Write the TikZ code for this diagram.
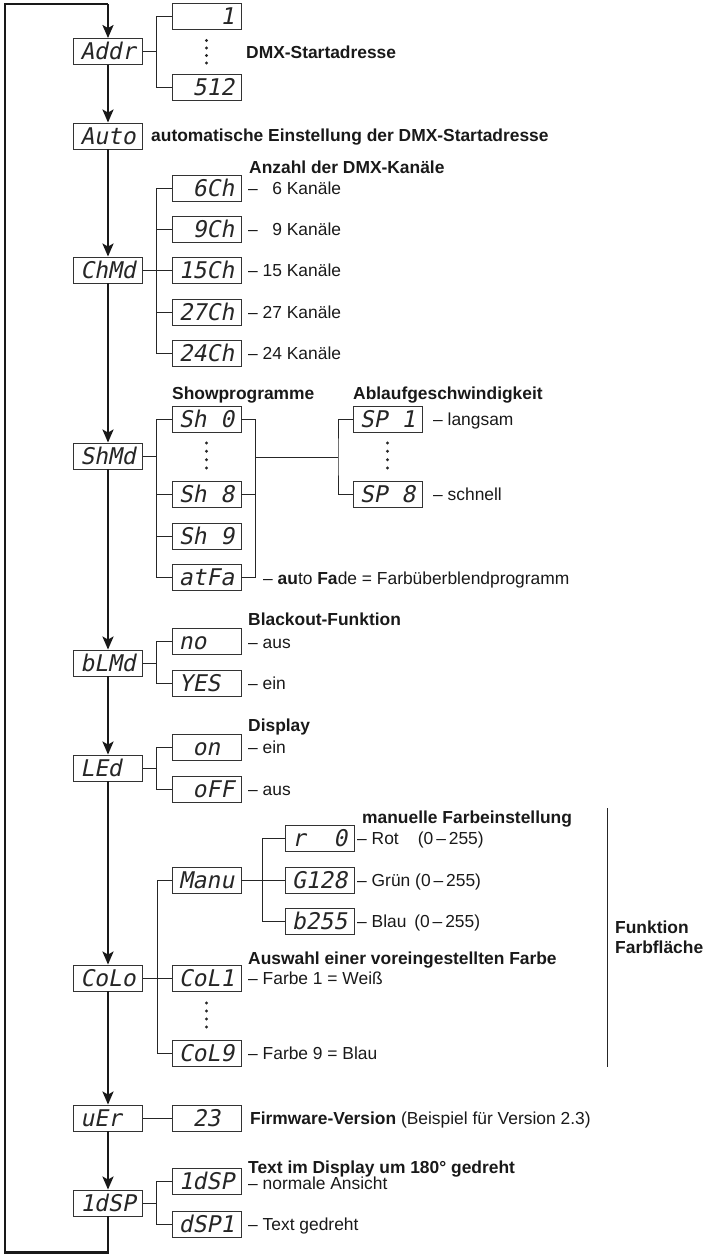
\documentclass[tikz,border=0pt]{standalone}
\usepackage{fontspec}
\setmainfont{Liberation Sans}
\newfontfamily\segfont{DejaVu Sans Mono}[FakeSlant=0.2]
\usetikzlibrary{arrows.meta}
\newcommand\bl{\hphantom{0}}
\tikzset{
  disp/.style={draw=black!80, line width=0.9pt, minimum width=69pt, minimum height=26pt,
    inner sep=0pt, text height=16.8pt, text depth=0pt,
    font=\segfont\fontsize{23}{23}\selectfont, text=black!85},
  flow/.style={line width=2.4pt, draw=black!90, -{Stealth[length=13pt,width=11pt,inset=3pt]}},
  loopline/.style={line width=2.4pt, draw=black!90},
  br/.style={line width=0.9pt, draw=black!85},
  lbl/.style={anchor=base west, inner sep=0pt, text=black!90, font=\fontsize{17.4}{20}\selectfont},
  blbl/.style={lbl, font=\fontsize{17.4}{20}\selectfont\bfseries},
  dotfill/.style={fill=black!85}
}
\begin{document}
\begin{tikzpicture}[x=1pt,y=-1pt]
\useasboundingbox (0,0) rectangle (704,1254);
% ---------- main column ----------
\node[disp] (addr) at (108,51.5) {Addr};
\node[disp] (auto) at (108,136) {Auto};
\node[disp] (chmd) at (108,270) {ChMd};
\node[disp] (shmd) at (108,456) {ShMd};
\node[disp] (blmd) at (108,663) {bLMd};
\node[disp] (led)  at (108,768) {LEd\bl};
\node[disp] (colo) at (108,978) {CoLo};
\node[disp] (uer)  at (108,1118) {uEr\bl};
\node[disp] (idsp) at (108,1203) {1dSP};
% ---------- Addr ----------
\node[disp] (a1)   at (206.5,16.5) {\bl\bl\bl1};
\node[disp] (a512) at (206.5,87.5) {\bl512};
\draw[br] (addr.east) -- ++(14,0);
\draw[br] (a1.west) -- ++(-15,0) |- (a512.west);
\foreach \yy in {40.5,48,55.5,63} \fill[dotfill] (206.5,\yy) circle (1.6pt);
\node[blbl] (taddr) at (246,58) {DMX-Startadresse};
\node[blbl] (tauto) at (151,141) {automatische Einstellung der DMX-Startadresse};
% ---------- ChMd ----------
\node[disp] (c6)  at (206.5,188) {\bl6Ch};
\node[disp] (c9)  at (206.5,229) {\bl9Ch};
\node[disp] (c15) at (206.5,270) {15Ch};
\node[disp] (c27) at (206.5,312) {27Ch};
\node[disp] (c24) at (206.5,353) {24Ch};
\draw[br] (chmd.east) -- (c15.west);
\draw[br] (c6.west) -- ++(-15,0) |- (c24.west);
\draw[br] (c9.west) -- ++(-15,0);
\draw[br] (c27.west) -- ++(-15,0);
\node[blbl] (tch) at (249,173) {Anzahl der DMX-Kanäle};
\node[lbl] (t6)  at (248,194) {– \hphantom{1}6 Kanäle};
\node[lbl] (t9)  at (248,235) {– \hphantom{1}9 Kanäle};
\node[lbl] (t15) at (248,276) {– 15 Kanäle};
\node[lbl] (t27) at (248,318) {– 27 Kanäle};
\node[lbl] (t24) at (248,359) {– 24 Kanäle};
% ---------- ShMd ----------
\node[disp] (sh0)  at (206.5,419) {Sh\bl0};
\node[disp] (sh8)  at (206.5,494) {Sh\bl8};
\node[disp] (sh9)  at (206.5,536) {Sh\bl9};
\node[disp] (atfa) at (206.5,577) {atFa};
\node[disp] (sp1)  at (387.5,419) {SP\bl1};
\node[disp] (sp8)  at (387.5,494) {SP\bl8};
\draw[br] (shmd.east) -- ++(14,0);
\draw[br] (sh0.west) -- ++(-15,0) |- (atfa.west);
\draw[br] (sh8.west) -- ++(-15,0);
\draw[br] (sh9.west) -- ++(-15,0);
\draw[br] (sh0.east) -- ++(14,0) |- (atfa.east);
\draw[br] (sh8.east) -- ++(14,0);
\coordinate (jl) at (255.5,457);
\coordinate (jr) at (338,457);
\draw[br] (jl) -- (jr);
\draw[br] (sp1.west) -| (jr) |- (sp8.west);
\foreach \yy in {443,451.3,459.7,468} {
  \fill[dotfill] (206.5,\yy) circle (1.6pt);
  \fill[dotfill] (387.5,\yy) circle (1.6pt);
}
\node[blbl] (tshow) at (172,399) {Showprogramme};
\node[blbl] (tabl)  at (353,399) {Ablaufgeschwindigkeit};
\node[lbl] (tlang)  at (433,425) {– langsam};
\node[lbl] (tschn)  at (433,500) {– schnell};
\node[lbl] (tfade)  at (263,584) {– \textbf{au}to \textbf{Fa}de = Farbüberblendprogramm};
% ---------- bLMd ----------
\node[disp] (no)  at (206.5,641) {no\bl\bl};
\node[disp] (yes) at (206.5,683) {YES\bl};
\draw[br] (blmd.east) -- ++(14,0);
\draw[br] (no.west) -- ++(-15,0) |- (yes.west);
\node[blbl] (tblack) at (248,625) {Blackout-Funktion};
\node[lbl] (tno)  at (248,648) {– aus};
\node[lbl] (tyes) at (248,689) {– ein};
% ---------- LEd ----------
\node[disp] (on)  at (206.5,747) {\bl on\bl};
\node[disp] (off) at (206.5,789) {\bl oFF};
\draw[br] (led.east) -- ++(14,0);
\draw[br] (on.west) -- ++(-15,0) |- (off.west);
\node[blbl] (tdisp) at (248,731) {Display};
\node[lbl] (ton)  at (248,753) {– ein};
\node[lbl] (toff) at (248,795) {– aus};
% ---------- CoLo ----------
\node[disp] (manu) at (206.5,880) {Manu};
\node[disp] (col1) at (206.5,978) {CoL1};
\node[disp] (col9) at (206.5,1053) {CoL9};
\node[disp] (r0)   at (319.5,838) {r\bl\bl0};
\node[disp] (g128) at (319.5,880) {G128};
\node[disp] (b255) at (319.5,921) {b255};
\draw[br] (colo.east) -- (col1.west);
\draw[br] (manu.west) -- ++(-14,0) |- (col9.west);
\draw[br] (manu.east) -- (g128.west);
\draw[br] (r0.west) -- ++(-22,0) |- (b255.west);
\foreach \yy in {1003,1011,1019,1027} \fill[dotfill] (206.5,\yy) circle (1.6pt);
\node[blbl] (tman) at (362,823) {manuelle Farbeinstellung};
\node[lbl] (trot)  at (357,844) {– Rot\hspace{1.1em}(0\,–\,255)};
\node[lbl] (tgrun) at (357,886) {– Grün (0\,–\,255)};
\node[lbl] (tblau) at (357,927) {– Blau\hspace{0.45em}(0\,–\,255)};
\node[blbl] (taus) at (248,964) {Auswahl einer voreingestellten Farbe};
\node[lbl] (tf1) at (248,984) {– Farbe 1 = Weiß};
\node[lbl] (tf9) at (248,1059) {– Farbe 9 = Blau};
\coordinate (rt) at (607,808);
\coordinate (rb) at (607,1067);
\draw[br] (rt) -- (rb);
\node[blbl] (tfunk) at (615,933) {Funktion};
\node[blbl] (tfarb) at (615,953) {Farbfläche};
% ---------- uEr ----------
\node[disp] (v23) at (206.5,1118) {\bl23\bl};
\draw[br] (uer.east) -- (v23.west);
\node[lbl] (tfw) at (250,1124) {\textbf{Firmware-Version} (Beispiel für Version 2.3)};
% ---------- 1dSP ----------
\node[disp] (s1dsp) at (206.5,1181) {1dSP};
\node[disp] (sdsp1) at (206.5,1224) {dSP1};
\draw[br] (idsp.east) -- ++(14,0);
\draw[br] (s1dsp.west) -- ++(-15,0) |- (sdsp1.west);
\node[blbl] (trot180) at (248,1173) {Text im Display um 180° gedreht};
\node[lbl] (tnorm) at (248,1189) {– normale Ansicht};
\node[lbl] (tgedr) at (248,1230) {– Text gedreht};
% ---------- flow ----------
\draw[flow] (addr) -- (auto);
\draw[flow] (auto) -- (chmd);
\draw[flow] (chmd) -- (shmd);
\draw[flow] (shmd) -- (blmd);
\draw[flow] (blmd) -- (led);
\draw[flow] (led) -- (colo);
\draw[flow] (colo) -- (uer);
\draw[flow] (uer) -- (idsp);
\coordinate (lb) at (108,1252.3);
\coordinate (cb) at (4.7,1252.3);
\coordinate (ct) at (4.7,4);
\coordinate (lt) at (108,4);
\draw[loopline] (idsp.south) -- (lb) -- (cb) -- (ct) -- (lt);
\draw[flow] (lt) -- (addr.north);
\end{tikzpicture}
\end{document}
